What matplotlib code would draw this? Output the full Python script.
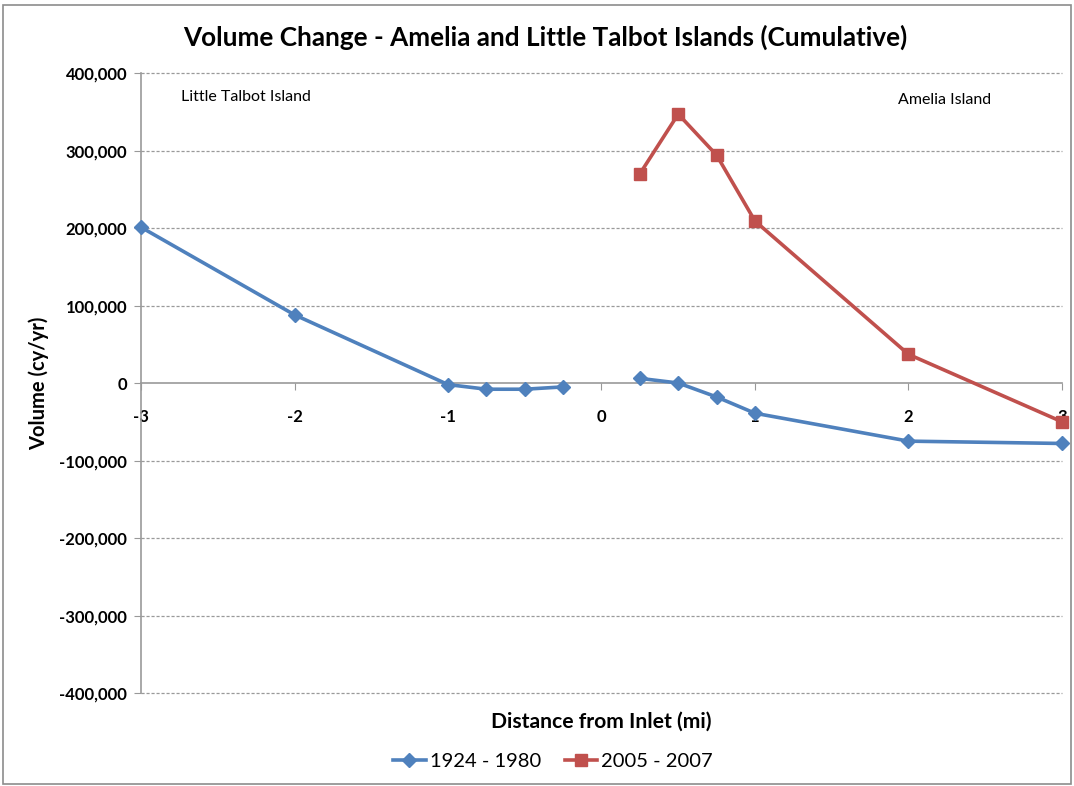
import matplotlib
matplotlib.use("Agg")
import matplotlib.pyplot as plt
import numpy as np
from matplotlib.patches import Rectangle
from matplotlib.ticker import FuncFormatter, MultipleLocator

plt.rcParams['font.family'] = ['Lato', 'DejaVu Sans']

# Distance from inlet (mi) and cumulative volume change (cy/yr)
dist_1924 = [-3, -2, -1, -0.75, -0.5, -0.25, 0.25, 0.5, 0.75, 1, 2, 3]
vol_1924 = [201000, 88000, -2000, -8000, -8000, -5000, 6000, 0, -18000, -39000, -75000, -78000]

dist_2005 = [0.25, 0.5, 0.75, 1, 2, 3]
vol_2005 = [270000, 347000, 294000, 209000, 37000, -50000]

series_labels = ['1924 - 1980', '2005 - 2007']
x_ticks = [-3, -2, -1, 0, 1, 2, 3]

fig = plt.figure(figsize=(10.74, 7.86), dpi=100)
ax = fig.add_axes([0.1313, 0.1183, 0.8575, 0.7888])

blue = '#4F81BD'
red = '#C0504D'

# The 1924-1980 profile is drawn as two separate reaches, one on each side of the inlet
d1 = np.array(dist_1924, dtype=float)
v1 = np.array(vol_1924, dtype=float)
south = d1 < 0
north = d1 > 0
style1 = dict(color=blue, lw=2.6, marker='D', ms=7.5, zorder=3, clip_on=False)
ax.plot(d1[south], v1[south], label=series_labels[0], **style1)
ax.plot(d1[north], v1[north], **style1)
ax.plot(dist_2005, vol_2005, color=red, lw=2.6, marker='s', ms=8.5,
        label=series_labels[1], zorder=3, clip_on=False)

ax.set_xlim(-3, 3)
ax.set_ylim(-400000, 400000)
ax.yaxis.set_major_locator(MultipleLocator(100000))
ax.yaxis.set_major_formatter(FuncFormatter(lambda v, p: f'{int(v):,}'))

# Dashed horizontal gridlines
for yv in range(-400000, 400001, 100000):
    if yv != 0:
        ax.axhline(yv, color='#9a9a9a', lw=0.9, ls=(0, (2.5, 1.5)), zorder=1,
                   clip_on=False)

for s in ['top', 'right']:
    ax.spines[s].set_visible(False)
ax.spines['bottom'].set_position(('data', 0))
ax.spines['bottom'].set_color('#999999')
ax.spines['left'].set_color('#999999')
ax.spines['bottom'].set_linewidth(1.2)
ax.spines['left'].set_linewidth(1.2)

ax.set_xticks(x_ticks)
ax.set_xticklabels([str(t) for t in x_ticks])
ax.tick_params(axis='x', direction='out', length=5, color='#999999', pad=14,
               labelsize=12)
ax.tick_params(axis='y', direction='out', length=5, color='#999999', pad=5,
               labelsize=12)
for lbl in ax.get_xticklabels() + ax.get_yticklabels():
    lbl.set_fontweight('bold')

ax.set_xlabel('Distance from Inlet (mi)', fontsize=15.2, fontweight='bold')
ax.xaxis.set_label_coords(0.5, -0.03)
ax.set_ylabel('Volume (cy/yr)', fontsize=14.5, fontweight='bold')
ax.yaxis.set_label_coords(-0.1, 0.5)

fig.text(0.508, 0.953, 'Volume Change - Amelia and Little Talbot Islands (Cumulative)',
         ha='center', va='center', fontsize=18.8, fontweight='bold')

ax.text(-2.74, 369000, 'Little Talbot Island', fontsize=11.5, ha='left', va='center')
ax.text(1.93, 365000, 'Amelia Island', fontsize=11.5, ha='left', va='center')

leg = fig.legend(loc='center', bbox_to_anchor=(0.515, 0.031), ncol=2, frameon=False,
                 fontsize=14.5, handlelength=1.6, columnspacing=1.2, handletextpad=0.2)

fig.patches.append(Rectangle((0.003, 0.003), 0.994, 0.991, transform=fig.transFigure,
                             fill=False, edgecolor='#8c8c8c', lw=1.2))

fig.savefig('out.png', dpi=100)
